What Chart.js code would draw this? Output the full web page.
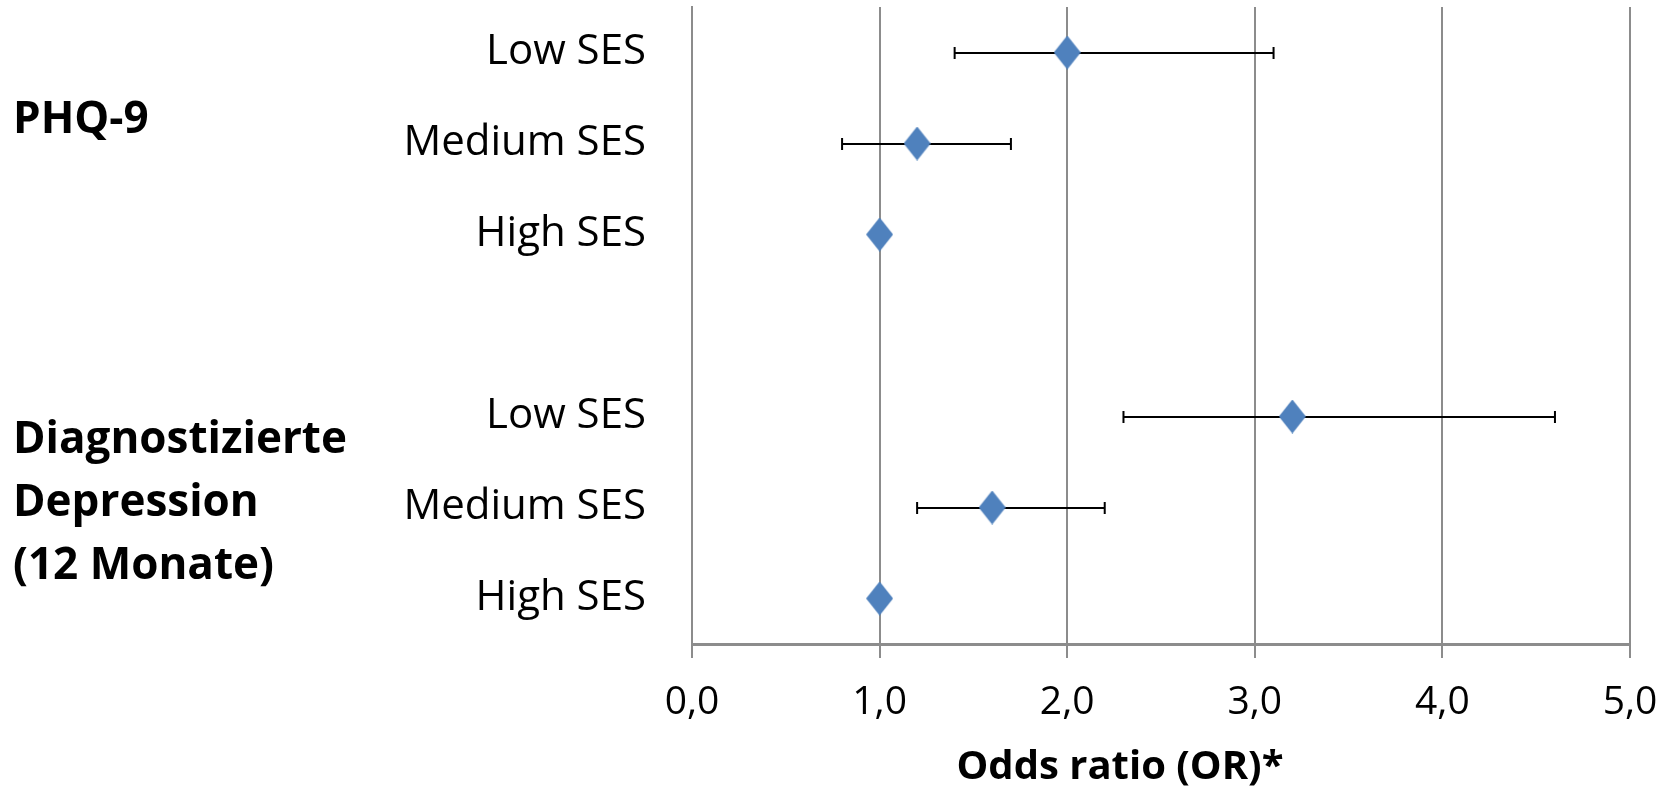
<!DOCTYPE html>
<html>
<head>
<meta charset="utf-8">
<title>Odds ratio SES</title>
<script src="https://cdn.jsdelivr.net/npm/chart.js@4"></script>
<style>
    html, body { margin: 0; padding: 0; background: #ffffff; }
    #wrap { width: 1670px; height: 789px; }
</style>
</head>
<body>
<div id="wrap"><canvas id="or-chart" width="1670" height="789"></canvas></div>
<script>
// 資料
const rowLabels = ['Low SES', 'Medium SES', 'High SES', '', 'Low SES', 'Medium SES', 'High SES'];
const oddsRatio = [2.0, 1.2, 1.0, null, 3.2, 1.6, 1.0];
const ciLow = [1.4, 0.8, null, null, 2.3, 1.2, null];
const ciHigh = [3.1, 1.7, null, null, 4.6, 2.2, null];
const xTicks = [0, 1, 2, 3, 4, 5];
const groupLabels = [['PHQ-9'], ['Diagnostizierte', 'Depression', '(12 Monate)']];
const axisTitle = 'Odds ratio (OR)*';

const FONT = "'Open Sans', 'Noto Sans', sans-serif";
const GRID = '#8c8c8c';
const BLUE = '#4f81bd';

// 菱形標記
function makeDiamond(w, h) {
    const c = document.createElement('canvas');
    c.width = w;
    c.height = h;
    const g = c.getContext('2d');
    g.fillStyle = BLUE;
    g.beginPath();
    g.moveTo(w / 2, 0);
    g.lineTo(w, h / 2);
    g.lineTo(w / 2, h);
    g.lineTo(0, h / 2);
    g.closePath();
    g.fill();
    return c;
}
const diamond = makeDiamond(27, 34);

// 誤差線（畫在菱形下面）
const errorBars = {
    id: 'errorBars',
    beforeDatasetsDraw(chart) {
        const { ctx, scales: { x, y } } = chart;
        ctx.save();
        ctx.strokeStyle = '#000000';
        ctx.lineWidth = 2;
        ciLow.forEach((lo, i) => {
            const hi = ciHigh[i];
            if (lo == null || hi == null) return;
            const py = Math.round(y.getPixelForValue(i));
            const x1 = x.getPixelForValue(lo);
            const x2 = x.getPixelForValue(hi);
            ctx.beginPath();
            ctx.moveTo(x1, py);
            ctx.lineTo(x2, py);
            ctx.moveTo(x1, py - 6);
            ctx.lineTo(x1, py + 6);
            ctx.moveTo(x2, py - 6);
            ctx.lineTo(x2, py + 6);
            ctx.stroke();
        });
        ctx.restore();
    }
};

// 左側分組標題與 x 軸標題
const sideText = {
    id: 'sideText',
    afterDraw(chart) {
        const { ctx } = chart;
        ctx.save();
        ctx.fillStyle = '#000000';
        ctx.font = `bold 44px ${FONT}`;
        ctx.textAlign = 'left';
        ctx.textBaseline = 'middle';
        ctx.fillText(groupLabels[0][0], 13, 120);
        const lines = groupLabels[1];
        lines.forEach((t, i) => ctx.fillText(t, 13, 440 + i * 63));
        ctx.textAlign = 'center';
        ctx.font = `bold 40px ${FONT}`;
        ctx.fillText(axisTitle, 1120, 768);
        ctx.restore();
    }
};

const chart = new Chart(document.getElementById('or-chart'), {
    type: 'line',
    data: {
        labels: rowLabels,
        datasets: [{
            label: 'OR',
            data: oddsRatio,
            showLine: false,
            pointStyle: diamond,
            pointRadius: 14,
            pointHoverRadius: 14,
            backgroundColor: BLUE,
            borderColor: BLUE
        }]
    },
    options: {
        responsive: false,
        animation: false,
        indexAxis: 'y',
        layout: {
            autoPadding: false,
            padding: { top: 7, right: 40, left: 0, bottom: 0 }
        },
        plugins: {
            legend: { display: false },
            tooltip: { enabled: false }
        },
        scales: {
            x: {
                type: 'linear',
                position: 'bottom',
                min: xTicks[0],
                max: xTicks[xTicks.length - 1],
                afterBuildTicks(scale) {
                    scale.ticks = xTicks.map(v => ({ value: v }));
                },
                afterFit(scale) {
                    scale.height = 145;
                    scale.paddingLeft = 0;
                    scale.paddingRight = 0;
                    scale.paddingTop = 0;
                    scale.paddingBottom = 0;
                },
                grid: {
                    color: GRID,
                    lineWidth: 2,
                    tickLength: 14,
                    drawTicks: true
                },
                border: { color: GRID, width: 3 },
                ticks: {
                    color: '#000000',
                    padding: 21,
                    font: { family: FONT, size: 39 },
                    callback: v => v.toFixed(1).replace('.', ',')
                }
            },
            y: {
                type: 'category',
                offset: true,
                afterFit(scale) {
                    scale.width = 692;
                    scale.paddingLeft = 0;
                    scale.paddingRight = 0;
                    scale.paddingTop = 0;
                    scale.paddingBottom = 0;
                },
                grid: { display: false, drawTicks: false },
                border: { color: GRID, width: 2 },
                ticks: {
                    color: '#000000',
                    padding: 46,
                    font: { family: FONT, size: 42 }
                }
            }
        }
    },
    plugins: [errorBars, sideText]
});
</script>
</body>
</html>
